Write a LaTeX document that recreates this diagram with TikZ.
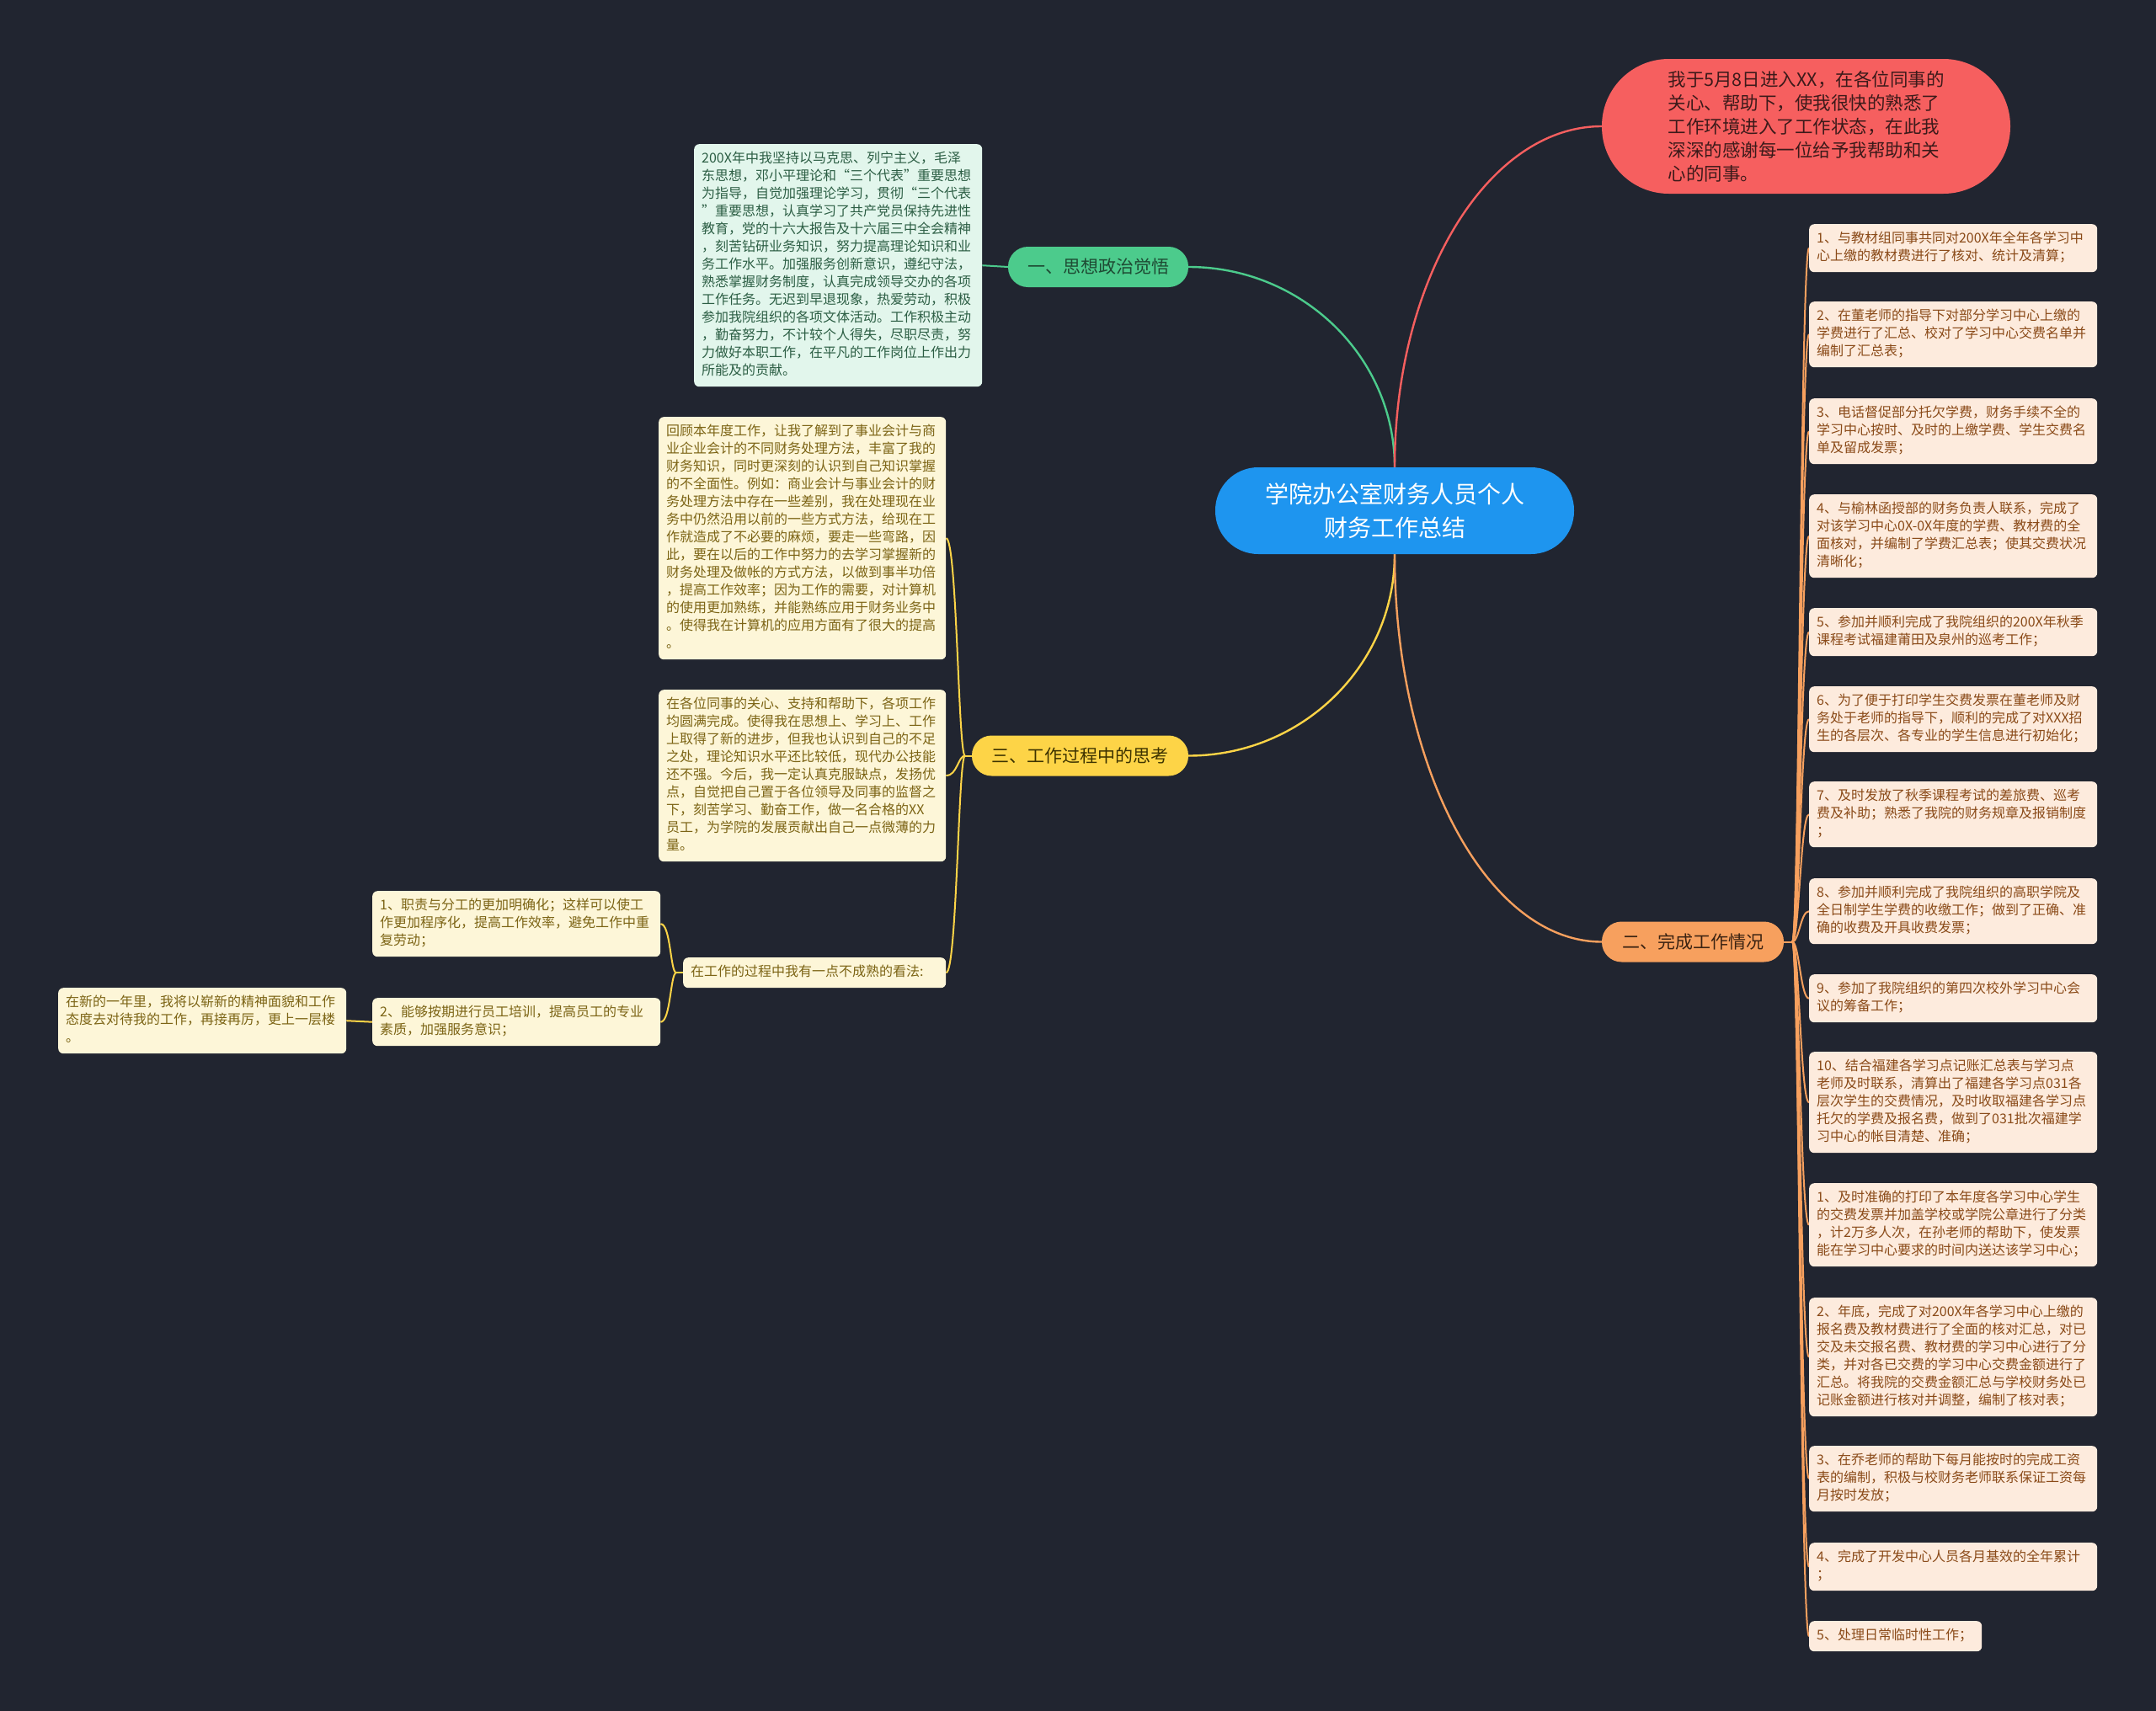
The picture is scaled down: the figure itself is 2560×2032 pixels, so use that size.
\documentclass[tikz,border=0pt]{standalone}
\usepackage{fontspec}
\setmainfont{Noto Sans CJK SC}
\usetikzlibrary{backgrounds}
\definecolor{bgc}{HTML}{212530}
\definecolor{cRoot}{HTML}{1E95EF}
\definecolor{cG}{HTML}{4CCB8C}
\definecolor{cY}{HTML}{FDD447}
\definecolor{cO}{HTML}{F7A05E}
\definecolor{cR}{HTML}{F65F5F}
\definecolor{tG}{HTML}{1E4A33}
\definecolor{tY}{HTML}{3D3300}
\definecolor{tO}{HTML}{3B2312}
\definecolor{tR}{HTML}{3C1A1A}
\definecolor{fG}{HTML}{E2F6EC}
\definecolor{fY}{HTML}{FDF6D8}
\definecolor{fO}{HTML}{FDEBDD}
\definecolor{ltG}{HTML}{2C5E44}
\definecolor{ltY}{HTML}{7C6415}
\definecolor{ltO}{HTML}{8A4A18}
\tikzset{
  leafbase/.style={anchor=north west, rounded corners=6pt, inner xsep=9pt, inner ysep=7.5pt,
    align=left, font=\fontsize{16}{21}\selectfont,
    execute at begin node=\strut, execute at end node=\strut},
  leafG/.style={leafbase, fill=fG, text=ltG, text width=324pt},
  leafY/.style={leafbase, fill=fY, text=ltY, text width=323pt},
  leafO/.style={leafbase, fill=fO, text=ltO, text width=324pt},
  branch/.style={rounded corners=23.5pt, minimum height=48pt, inner sep=2pt,
    font=\fontsize{21}{26}\selectfont},
  lG/.style={draw=cG, line width=2.4pt},
  lR/.style={draw=cR, line width=2.4pt},
  lY/.style={draw=cY, line width=2.4pt},
  lO/.style={draw=cO, line width=2.4pt},
  bY/.style={draw=cY, line width=2pt},
  bO/.style={draw=cO, line width=2pt},
}
\begin{document}
\begin{tikzpicture}[x=1pt,y=-1pt]
\useasboundingbox (0,0) rectangle (2560,2032);

% root
\node[fill=cRoot, text=white, rounded corners=51pt, minimum width=426pt, minimum height=103pt,
  inner sep=2pt, align=center, font=\fontsize{28}{40}\selectfont] (root) at (1656,606.5)
  {学院办公室财务人员个人\\财务工作总结};

% branches
\node[branch, fill=cG, text=tG, minimum width=214pt] (gB) at (1304,317) {一、思想政治觉悟};
\node[branch, fill=cY, text=tY, minimum width=257pt] (yB) at (1282.5,897.5) {三、工作过程中的思考};
\node[branch, fill=cO, text=tO, minimum width=216pt] (oB) at (2010,1118.5) {二、完成工作情况};
\node[fill=cR, text=tR, rounded corners=79.5pt, minimum width=485pt, minimum height=160pt,
  inner sep=2pt, align=left, font=\fontsize{21.5}{28}\selectfont] (rB) at (2144.5,150)
  {我于5月8日进入XX，在各位同事的\\关心、帮助下，使我很快的熟悉了\\工作环境进入了工作状态，在此我\\深深的感谢每一位给予我帮助和关\\心的同事。};

% green leaf
\node[leafG] (gL) at (824,171) {200X年中我坚持以马克思、列宁主义，毛泽\\东思想，邓小平理论和“三个代表”重要思想\\为指导，自觉加强理论学习，贯彻“三个代表\\”重要思想，认真学习了共产党员保持先进性\\教育，党的十六大报告及十六届三中全会精神\\，刻苦钻研业务知识，努力提高理论知识和业\\务工作水平。加强服务创新意识，遵纪守法，\\熟悉掌握财务制度，认真完成领导交办的各项\\工作任务。无迟到早退现象，热爱劳动，积极\\参加我院组织的各项文体活动。工作积极主动\\，勤奋努力，不计较个人得失，尽职尽责，努\\力做好本职工作，在平凡的工作岗位上作出力\\所能及的贡献。};

% yellow leaves
\node[leafY] (yL1) at (782,495) {回顾本年度工作，让我了解到了事业会计与商\\业企业会计的不同财务处理方法，丰富了我的\\财务知识，同时更深刻的认识到自己知识掌握\\的不全面性。例如：商业会计与事业会计的财\\务处理方法中存在一些差别，我在处理现在业\\务中仍然沿用以前的一些方式方法，给现在工\\作就造成了不必要的麻烦，要走一些弯路，因\\此，要在以后的工作中努力的去学习掌握新的\\财务处理及做帐的方式方法，以做到事半功倍\\，提高工作效率；因为工作的需要，对计算机\\的使用更加熟练，并能熟练应用于财务业务中\\。使得我在计算机的应用方面有了很大的提高\\。};
\node[leafY] (yL2) at (782,819) {在各位同事的关心、支持和帮助下，各项工作\\均圆满完成。使得我在思想上、学习上、工作\\上取得了新的进步，但我也认识到自己的不足\\之处，理论知识水平还比较低，现代办公技能\\还不强。今后，我一定认真克服缺点，发扬优\\点，自觉把自己置于各位领导及同事的监督之\\下，刻苦学习、勤奋工作，做一名合格的XX\\员工，为学院的发展贡献出自己一点微薄的力\\量。};
\node[leafY, text width=294pt] (kan) at (811,1137) {在工作的过程中我有一点不成熟的看法:};
\node[leafY, text width=324pt] (i1) at (442,1058) {1、职责与分工的更加明确化；这样可以使工\\作更加程序化，提高工作效率，避免工作中重\\复劳动；};
\node[leafY, text width=324pt] (i2) at (442,1185) {2、能够按期进行员工培训，提高员工的专业\\素质，加强服务意识；};
\node[leafY, text width=324pt] (fin) at (69,1173) {在新的一年里，我将以崭新的精神面貌和工作\\态度去对待我的工作，再接再厉，更上一层楼\\。};

% orange leaves
\node[leafO] (c1) at (2148,266) {1、与教材组同事共同对200X年全年各学习中\\心上缴的教材费进行了核对、统计及清算；};
\node[leafO] (c2) at (2148,358) {2、在董老师的指导下对部分学习中心上缴的\\学费进行了汇总、校对了学习中心交费名单并\\编制了汇总表；};
\node[leafO] (c3) at (2148,473) {3、电话督促部分托欠学费，财务手续不全的\\学习中心按时、及时的上缴学费、学生交费名\\单及留成发票；};
\node[leafO] (c4) at (2148,587) {4、与榆林函授部的财务负责人联系，完成了\\对该学习中心0X-0X年度的学费、教材费的全\\面核对，并编制了学费汇总表；使其交费状况\\清晰化；};
\node[leafO] (c5) at (2148,722) {5、参加并顺利完成了我院组织的200X年秋季\\课程考试福建莆田及泉州的巡考工作；};
\node[leafO] (c6) at (2148,815) {6、为了便于打印学生交费发票在董老师及财\\务处于老师的指导下，顺利的完成了对XXX招\\生的各层次、各专业的学生信息进行初始化；};
\node[leafO] (c7) at (2148,928) {7、及时发放了秋季课程考试的差旅费、巡考\\费及补助；熟悉了我院的财务规章及报销制度\\；};
\node[leafO] (c8) at (2148,1043) {8、参加并顺利完成了我院组织的高职学院及\\全日制学生学费的收缴工作；做到了正确、准\\确的收费及开具收费发票；};
\node[leafO] (c9) at (2148,1157) {9、参加了我院组织的第四次校外学习中心会\\议的筹备工作；};
\node[leafO] (c10) at (2148,1249) {10、结合福建各学习点记账汇总表与学习点\\老师及时联系，清算出了福建各学习点031各\\层次学生的交费情况，及时收取福建各学习点\\托欠的学费及报名费，做到了031批次福建学\\习中心的帐目清楚、准确；};
\node[leafO] (c11) at (2148,1405) {1、及时准确的打印了本年度各学习中心学生\\的交费发票并加盖学校或学院公章进行了分类\\，计2万多人次，在孙老师的帮助下，使发票\\能在学习中心要求的时间内送达该学习中心；};
\node[leafO] (c12) at (2148,1541) {2、年底，完成了对200X年各学习中心上缴的\\报名费及教材费进行了全面的核对汇总，对已\\交及未交报名费、教材费的学习中心进行了分\\类，并对各已交费的学习中心交费金额进行了\\汇总。将我院的交费金额汇总与学校财务处已\\记账金额进行核对并调整，编制了核对表；};
\node[leafO] (c13) at (2148,1717) {3、在乔老师的帮助下每月能按时的完成工资\\表的编制，积极与校财务老师联系保证工资每\\月按时发放；};
\node[leafO] (c14) at (2148,1832) {4、完成了开发中心人员各月基效的全年累计\\；};
\node[leafO, text width=187pt] (c15) at (2148,1925) {5、处理日常临时性工作；};

\begin{pgfonlayer}{background}
\fill[bgc] (0,0) rectangle (2560,2032);
% main connectors
\draw[lG] (root.north) .. controls +(0,-131) and +(135,0) .. (gB.east);
\draw[lR] (root.north) .. controls +(0,-224) and +(-135,0) .. (rB.west);
\draw[lY] (root.south) .. controls +(0,132) and +(135,0) .. (yB.east);
\draw[lO] (root.south) .. controls +(0,254) and +(-136,0) .. (oB.west);
% green leaf
\draw[bY, draw=cG] (gB.west) -- (gL.east);
% yellow bracket
\draw[bY] (yB.west) -- ++(-8,0) coordinate (yS);
\foreach \n in {yL1,yL2,kan}
  \draw[bY] (yS) .. controls +(-8,0) and +(13,0) .. (\n.east);
\draw[bY] (kan.west) -- ++(-8,0) coordinate (kS);
\foreach \n in {i1,i2}
  \draw[bY] (kS) .. controls +(-7,0) and +(12,0) .. (\n.east);
\draw[bY] (i2.west) -- (fin.east);
% orange bracket
\draw[bO] (oB.east) -- ++(10,0) coordinate (oS);
\foreach \n in {c1,c2,c3,c4,c5,c6,c7,c8,c9,c10,c11,c12,c13,c14,c15}
  \draw[bO] (oS) .. controls +(8,0) and +(-10,0) .. (\n.west);
\end{pgfonlayer}
\end{tikzpicture}
\end{document}
